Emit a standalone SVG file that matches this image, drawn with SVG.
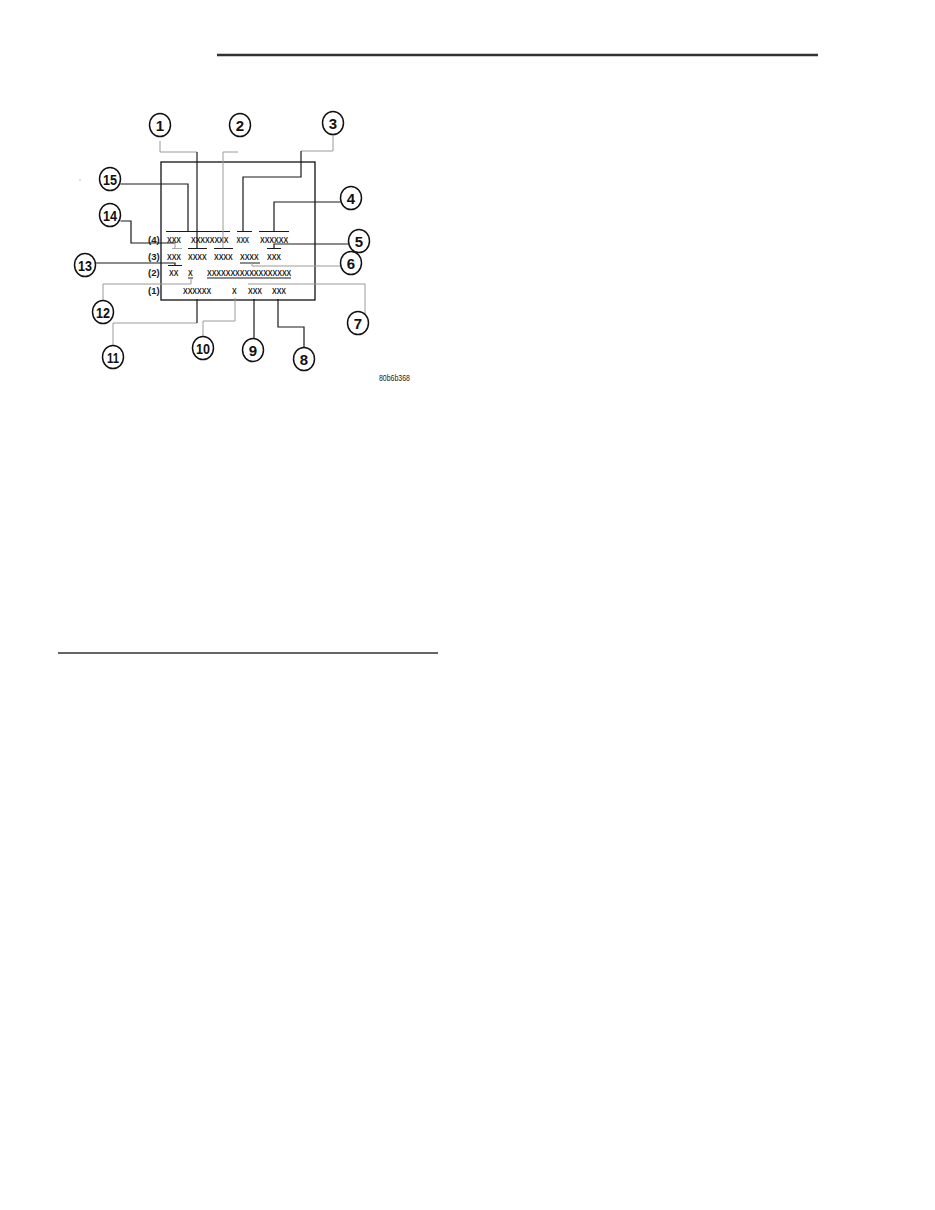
<svg xmlns="http://www.w3.org/2000/svg" width="935" height="1210" viewBox="0 0 935 1210">
<style>
.bg{fill:#fff}
.rule{stroke:#333;fill:none}
.box{fill:none;stroke:#111;stroke-width:1.3}
.dk{fill:none;stroke:#1a1a1a;stroke-width:1.2}
.gr{fill:none;stroke:#9a9a9a;stroke-width:1}
.mk{fill:none;stroke:#1a1a1a;stroke-width:1}
.mkg{fill:none;stroke:#aaa;stroke-width:1}
.c{fill:#fff;stroke:#111;stroke-width:1.5}
.n{font-family:"Liberation Sans",Arial,sans-serif;font-size:15px;font-weight:bold;fill:#111;text-anchor:middle}
.t{font-family:"Liberation Sans",Arial,sans-serif;font-size:9.5px;font-weight:bold;fill:#222}
.id{font-family:"Liberation Sans",Arial,sans-serif;font-size:9.5px;fill:#222}
</style>
<rect class="bg" x="0" y="0" width="935" height="1210"/>
<line class="rule" x1="217" y1="55" x2="818" y2="55" stroke-width="2.5"/>
<line class="rule" x1="58" y1="653" x2="438" y2="653" stroke-width="1.3"/>
<line x1="79" y1="180" x2="81" y2="180" stroke="#bbb" stroke-width="1"/>

<g id="display">
<rect class="box" x="161" y="162" width="154" height="138"/>
<g id="row4">
<text class="t" x="148" y="243">(4)</text>
<text class="t" transform="matrix(0.74 0 0 1 167 243)">XXX</text>
<text class="t" transform="matrix(0.74 0 0 1 191 243)">XXXXXXXX</text>
<text class="t" transform="matrix(0.66 0 0 1 236.5 243)">XXX</text>
<text class="t" transform="matrix(0.74 0 0 1 260 243)">XXXXXX</text>
<path class="mk" d="M166,231.5H230M237,231.5H252M259,231.5H289"/>
</g>
<g id="row3">
<text class="t" x="148" y="260">(3)</text>
<text class="t" transform="matrix(0.74 0 0 1 167 260)">XXX</text>
<text class="t" transform="matrix(0.74 0 0 1 188 260)">XXXX</text>
<text class="t" transform="matrix(0.74 0 0 1 214 260)">XXXX</text>
<text class="t" transform="matrix(0.74 0 0 1 240 260)">XXXX</text>
<text class="t" transform="matrix(0.74 0 0 1 267 260)">XXX</text>
<path class="mkg" d="M172,248.5H182"/>
<path class="mk" d="M188,248.5H207M214,248.5H233M267,248.5H281M240,263H260"/>
</g>
<g id="row2">
<text class="t" x="148" y="276">(2)</text>
<text class="t" transform="matrix(0.74 0 0 1 169 276)">XX</text>
<text class="t" transform="matrix(0.74 0 0 1 188 276)">X</text>
<text class="t" transform="matrix(0.74 0 0 1 207 276)">XXXXXXXXXXXXXXXXXX</text>
<path class="mk" d="M168,265.5H182M188,278H193M207,278H291"/>
</g>
<g id="row1">
<text class="t" x="148" y="294">(1)</text>
<text class="t" transform="matrix(0.74 0 0 1 183 294)">XXXXXX</text>
<text class="t" transform="matrix(0.74 0 0 1 232 294)">X</text>
<text class="t" transform="matrix(0.74 0 0 1 248 294)">XXX</text>
<text class="t" transform="matrix(0.74 0 0 1 272 294)">XXX</text>
</g>
</g>

<g id="connectors">
<path class="gr" d="M160,141V152H197"/>
<path class="dk" d="M197,152V248.5"/>
<path class="gr" d="M238,152H223V248.5"/>
<path class="gr" d="M333,135V151H301"/>
<path class="dk" d="M301,151V177H243V231.5"/>
<path class="dk" d="M340.5,202H274V231.5"/>
<path class="dk" d="M120.5,184H188V231.5"/>
<path class="dk" d="M120.5,221H131V243H175"/>
<path class="gr" d="M175,243V248.5"/>
<path class="dk" d="M348.5,244H274V248.5"/>
<path class="gr" d="M340.5,266H252V263"/>
<path class="dk" d="M95.5,263H175V265.5"/>
<path class="gr" d="M103,300.5V284H191V278"/>
<path class="gr" d="M365,315V284H248"/>
<path class="dk" d="M304,347.5V327H278V299"/>
<path class="dk" d="M254,338.5V299"/>
<path class="gr" d="M203,336.5V321H235V298"/>
<path class="gr" d="M113,345.5V323H197"/>
<path class="dk" d="M197,323V299"/>
</g>

<g id="c1"><ellipse class="c" cx="160" cy="125" rx="10.5" ry="11.5"/><text class="n" x="160" y="130.5">1</text></g>
<g id="c2"><ellipse class="c" cx="240" cy="125" rx="10.5" ry="11.5"/><text class="n" x="240" y="130.5">2</text></g>
<g id="c3"><ellipse class="c" cx="333" cy="123" rx="10.5" ry="11.5"/><text class="n" x="333" y="128.5">3</text></g>
<g id="c4"><ellipse class="c" cx="351" cy="198" rx="10.5" ry="11.5"/><text class="n" x="351" y="203.5">4</text></g>
<g id="c5"><ellipse class="c" cx="359" cy="241" rx="10.5" ry="11.5"/><text class="n" x="359" y="246.5">5</text></g>
<g id="c6"><ellipse class="c" cx="351" cy="263" rx="10.5" ry="11.5"/><text class="n" x="351" y="268.5">6</text></g>
<g id="c7"><ellipse class="c" cx="358" cy="323" rx="10.5" ry="11.5"/><text class="n" x="358" y="328.5">7</text></g>
<g id="c8"><ellipse class="c" cx="304" cy="359" rx="10.5" ry="11.5"/><text class="n" x="304" y="364.5">8</text></g>
<g id="c9"><ellipse class="c" cx="253" cy="350" rx="10.5" ry="11.5"/><text class="n" x="253" y="355.5">9</text></g>
<g id="c10"><ellipse class="c" cx="203" cy="348" rx="10.5" ry="11.5"/><text class="n" x="203" y="353.5" textLength="14" lengthAdjust="spacingAndGlyphs">10</text></g>
<g id="c11"><ellipse class="c" cx="113" cy="357" rx="10.5" ry="11.5"/><text class="n" x="113" y="362.5" textLength="12" lengthAdjust="spacingAndGlyphs">11</text></g>
<g id="c12"><ellipse class="c" cx="103" cy="312" rx="10.5" ry="11.5"/><text class="n" x="103" y="317.5" textLength="14" lengthAdjust="spacingAndGlyphs">12</text></g>
<g id="c13"><ellipse class="c" cx="85" cy="265" rx="10.5" ry="11.5"/><text class="n" x="85" y="270.5" textLength="14" lengthAdjust="spacingAndGlyphs">13</text></g>
<g id="c14"><ellipse class="c" cx="110" cy="215" rx="10.5" ry="11.5"/><text class="n" x="110" y="220.5" textLength="14" lengthAdjust="spacingAndGlyphs">14</text></g>
<g id="c15"><ellipse class="c" cx="110" cy="179" rx="10.5" ry="11.5"/><text class="n" x="110" y="184.5" textLength="14" lengthAdjust="spacingAndGlyphs">15</text></g>

<text class="id" x="379" y="381" textLength="31" lengthAdjust="spacingAndGlyphs">80b6b368</text>
</svg>
